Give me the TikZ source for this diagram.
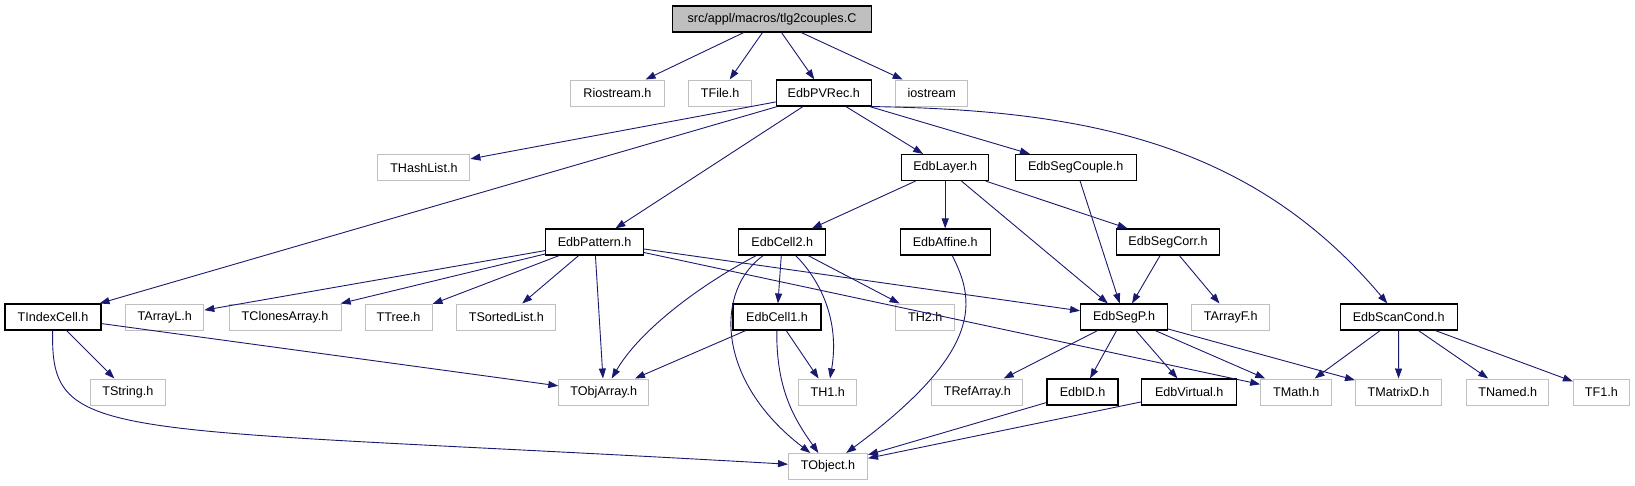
\documentclass[tikz,border=0pt]{standalone}
\usepackage{fontspec}
\setmainfont{Liberation Sans}
\usetikzlibrary{arrows.meta}
\definecolor{depblue}{HTML}{191970}
\definecolor{extgray}{HTML}{BFBFBF}

\begin{document}
\begin{tikzpicture}[x=1pt, y=-1pt, >={Triangle[length=10pt,width=7pt]}, every node/.style={font=\fontsize{12.6}{14}\selectfont}, box/.style={draw=black,line width=1.1pt,minimum height=26,inner sep=0pt}, ext/.style={box,draw=extgray,line width=1pt}, dep/.style={->,depblue,line width=0.9pt}]
\useasboundingbox (0,0) rectangle (1635,485);
\node[box,fill=extgray,minimum width=199] (main) at (772,19) {src/appl/macros/tlg2couples.C};
\node[ext,minimum width=94] (rio) at (617.4,93) {Riostream.h};
\node[ext,minimum width=63] (tfile) at (720.2,93) {TFile.h};
\node[box,minimum width=95] (pvrec) at (823.8,93) {EdbPVRec.h};
\node[ext,minimum width=72] (iostream) at (931.8,93) {iostream};
\node[ext,minimum width=92] (hashlist) at (423.9,167.5) {THashList.h};
\node[box,minimum width=87] (layer) at (945.2,167.5) {EdbLayer.h};
\node[box,minimum width=121] (segcouple) at (1075.7,167.5) {EdbSegCouple.h};
\node[box,minimum width=98] (pattern) at (594.6,242) {EdbPattern.h};
\node[box,minimum width=87] (cell2) at (782.2,242) {EdbCell2.h};
\node[box,minimum width=90] (affine) at (945.2,242) {EdbAffine.h};
\node[box,minimum width=103] (segcorr) at (1168,242) {EdbSegCorr.h};
\node[box,minimum width=96] (indexcell) at (53,317) {TIndexCell.h};
\node[ext,minimum width=78] (arrayl) at (164.8,317) {TArrayL.h};
\node[ext,minimum width=112] (clones) at (285,317) {TClonesArray.h};
\node[ext,minimum width=67] (tree) at (398.5,317) {TTree.h};
\node[ext,minimum width=99] (sorted) at (506.3,317) {TSortedList.h};
\node[box,minimum width=88] (cell1) at (777,317) {EdbCell1.h};
\node[ext,minimum width=59] (th2) at (925.3,317) {TH2.h};
\node[box,minimum width=87] (segp) at (1124.1,317) {EdbSegP.h};
\node[ext,minimum width=78] (arrayf) at (1230.8,317) {TArrayF.h};
\node[box,minimum width=117] (scancond) at (1398.7,317) {EdbScanCond.h};
\node[ext,minimum width=75] (tstring) at (127.9,392) {TString.h};
\node[ext,minimum width=90] (objarray) at (603.8,392) {TObjArray.h};
\node[ext,minimum width=58] (th1) at (827.7,392) {TH1.h};
\node[ext,minimum width=91] (refarray) at (977.3,392) {TRefArray.h};
\node[box,minimum width=71] (edbid) at (1082.5,392) {EdbID.h};
\node[box,minimum width=95] (virtual) at (1189.2,392) {EdbVirtual.h};
\node[ext,minimum width=71] (tmath) at (1296.2,392) {TMath.h};
\node[ext,minimum width=86] (matrixd) at (1398.5,392) {TMatrixD.h};
\node[ext,minimum width=82] (named) at (1507.8,392) {TNamed.h};
\node[ext,minimum width=56] (tf1) at (1601.4,392) {TF1.h};
\node[ext,minimum width=79] (tobject) at (828,466.5) {TObject.h};
\draw[dep] (main)--(rio); \draw[dep] (main)--(tfile); \draw[dep] (main)--(pvrec); \draw[dep] (main)--(iostream);
\draw[dep] (pvrec)--(hashlist); \draw[dep] (pvrec)--(indexcell); \draw[dep] (pvrec)--(pattern);
\draw[dep] (pvrec)--(layer); \draw[dep] (pvrec)--(segcouple);
\draw[dep] (pvrec.south east) .. controls (1080,110) and (1250,140) .. (scancond);
\draw[dep] (layer)--(cell2); \draw[dep] (layer)--(affine); \draw[dep] (layer)--(segp); \draw[dep] (layer)--(segcorr);
\draw[dep] (segcouple)--(segp);
\draw[dep] (pattern)--(arrayl); \draw[dep] (pattern)--(clones); \draw[dep] (pattern)--(tree); \draw[dep] (pattern)--(sorted);
\draw[dep] (pattern)--(objarray); \draw[dep] (pattern)--(segp); \draw[dep] (pattern)--(tmath);
\draw[dep] (cell2) .. controls (700,285) and (640,330) .. (objarray);
\draw[dep] (cell2) .. controls (715,290) and (715,380) .. (tobject);
\draw[dep] (cell2)--(cell1); \draw[dep] (cell2)--(th2);
\draw[dep] (cell2) .. controls (820,280) and (840,320) .. (th1);
\draw[dep] (affine) .. controls (975,300) and (985,350) .. (tobject);
\draw[dep] (segcorr)--(segp); \draw[dep] (segcorr)--(arrayf);
\draw[dep] (indexcell)--(tstring); \draw[dep] (indexcell)--(objarray);
\draw[dep] (indexcell) .. controls (50,445) and (100,425) .. (tobject);
\draw[dep] (cell1)--(objarray); \draw[dep] (cell1)--(th1);
\draw[dep] (cell1) .. controls (776,390) and (795,420) .. (tobject);
\draw[dep] (segp)--(refarray); \draw[dep] (segp)--(edbid); \draw[dep] (segp)--(virtual); \draw[dep] (segp)--(tmath); \draw[dep] (segp)--(matrixd);
\draw[dep] (scancond)--(tmath); \draw[dep] (scancond)--(matrixd); \draw[dep] (scancond)--(named); \draw[dep] (scancond)--(tf1);
\draw[dep] (edbid)--(tobject); \draw[dep] (virtual)--(tobject);
\end{tikzpicture}
\end{document}
